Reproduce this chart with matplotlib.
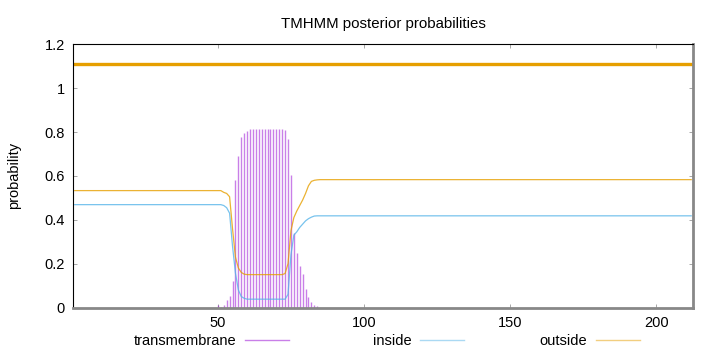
import matplotlib
matplotlib.use("Agg")
import matplotlib.pyplot as plt
from matplotlib.lines import Line2D
import numpy as np

# values (residues 1..212)
seq_len = 212
residues = np.arange(1, seq_len + 1)

tm_prob = ([0.0] * 49
           + [0.012, 0.004, 0.01, 0.034, 0.052, 0.12, 0.58, 0.69, 0.776, 0.795, 0.807]
           + [0.815] * 12
           + [0.81, 0.77, 0.605, 0.34, 0.25, 0.19, 0.155, 0.085, 0.05, 0.025, 0.012, 0.005]
           + [0.0] * 128)

inside_prob = ([0.469] * 51
               + [0.465, 0.455, 0.43, 0.28, 0.157, 0.08, 0.05, 0.042]
               + [0.038] * 14
               + [0.06, 0.24, 0.33, 0.345, 0.365, 0.38, 0.395, 0.405, 0.412, 0.417]
               + [0.418] * 129)

outside_prob = ([0.533] * 51
                + [0.525, 0.52, 0.505, 0.36, 0.23, 0.18, 0.16, 0.152]
                + [0.15] * 13
                + [0.155, 0.20, 0.35, 0.41, 0.44, 0.465, 0.49, 0.52, 0.555, 0.575, 0.58, 0.582]
                + [0.583] * 128)

# predicted topology segment drawn above the curves
topo_start, topo_end, topo_level = 0.5, 212.5, 1.11

c_tm = "#9400d3"
c_in = "#56b4e9"
c_out = "#e69f00"

plt.rcParams['font.family'] = ['Liberation Sans', 'DejaVu Sans']
plt.rcParams['font.size'] = 10.5

fig = plt.figure(figsize=(7.2, 3.52), dpi=100)
ax = fig.add_axes([0.1018, 0.1264, 0.8602, 0.7477])

tm = np.array(tm_prob)
nz = tm > 0
ax.vlines(residues[nz], 0, tm[nz], color=c_tm, alpha=0.5, lw=1.0)
ax.plot(residues, inside_prob, color=c_in, lw=0.9, alpha=0.8)
ax.plot(residues, outside_prob, color=c_out, lw=0.9, alpha=0.8)
ax.plot([topo_start, topo_end], [topo_level, topo_level], color=c_out, lw=2.4,
        solid_capstyle='butt')

ax.set_xlim(0.5, seq_len + 0.5)
ax.set_ylim(0, 1.2)
ax.set_xticks([50, 100, 150, 200])
ax.set_yticks([0, 0.2, 0.4, 0.6, 0.8, 1.0, 1.2])
ax.set_yticklabels(["0", "0.2", "0.4", "0.6", "0.8", "1", "1.2"])
ax.tick_params(direction='in', length=3, width=0.6, color='#999999',
               top=True, right=True, pad=6)

for s in ['top', 'left']:
    ax.spines[s].set_color('black')
    ax.spines[s].set_linewidth(0.8)
for s in ['bottom', 'right']:
    ax.spines[s].set_color('#888888')
    ax.spines[s].set_linewidth(2)

ax.set_ylabel("probability")
ax.yaxis.set_label_coords(-0.085, 0.5)
ax.set_title("TMHMM posterior probabilities", fontsize=10.8, pad=12)

# key row under the axis, one entry per series
entries = [("transmembrane", c_tm, 289), ("inside", c_in, 464), ("outside", c_out, 640)]
for label, col, x_end in entries:
    h = Line2D([], [], color=col, lw=1.0, alpha=0.5)
    fig.legend(handles=[h], labels=[label], loc='center right',
               bbox_to_anchor=(x_end / 720, 1 - 341 / 352), frameon=False,
               markerfirst=False, handlelength=3.0, handletextpad=0.6,
               borderpad=0, borderaxespad=0)

plt.savefig("out.png", dpi=100)
